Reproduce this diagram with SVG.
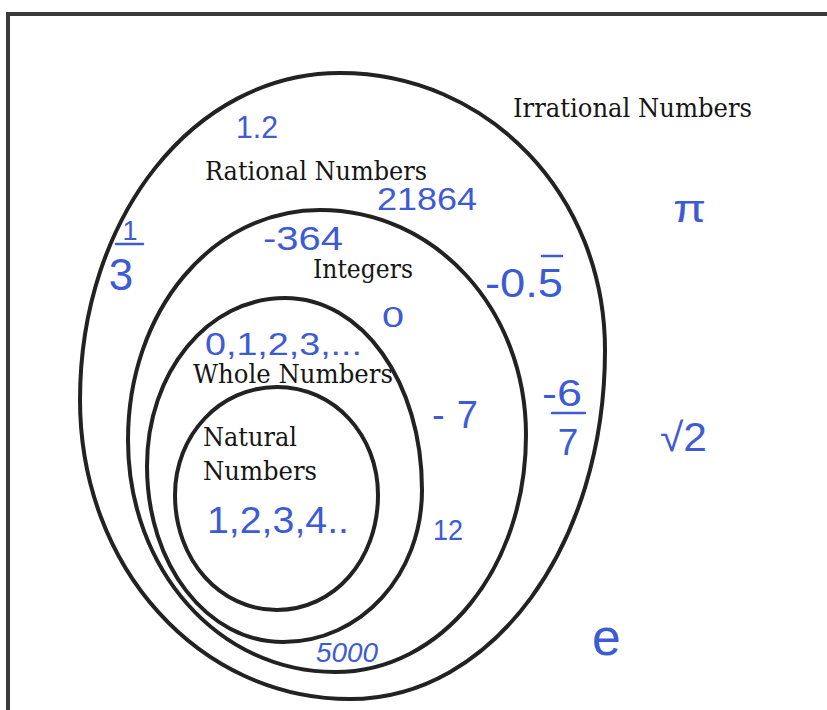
<svg xmlns="http://www.w3.org/2000/svg" width="827" height="710" viewBox="0 0 827 710">
<style>
.set{fill:none;stroke:#222;stroke-width:4}
.lbl{font-family:"DejaVu Serif","Liberation Serif",serif;fill:#151515;font-size:26px}
.hw{font-family:"Liberation Sans",Arial,sans-serif;fill:#3d5bd4}
.bar{stroke:#3d5bd4;stroke-width:2.5;stroke-linecap:round}
</style>
<rect width="827" height="710" fill="#fff"/>
<path d="M8,710 V14 H827" fill="none" stroke="#3a3a3a" stroke-width="4"/>
<g id="irrational">
<text class="lbl" x="513" y="117" font-size="27" textLength="239" lengthAdjust="spacingAndGlyphs">Irrational Numbers</text>
<text class="hw" x="673" y="222" font-size="38" textLength="33" lengthAdjust="spacingAndGlyphs">π</text>
<text class="hw" x="660" y="451" font-size="40" textLength="47" lengthAdjust="spacingAndGlyphs">√2</text>
<text class="hw" x="592" y="655" font-size="52">e</text>
</g>
<g id="rational">
<path class="set" d="M340,73 C488,73 605,195 605,350 C605,545 493,699 350,699 C199,699 80,567 80,400 C80,217 194,73 340,73 Z"/>
<text class="lbl" x="205" y="180" textLength="222" lengthAdjust="spacingAndGlyphs">Rational Numbers</text>
<text class="hw" x="236" y="138" font-size="31" textLength="42" lengthAdjust="spacingAndGlyphs">1.2</text>
<text class="hw" x="377" y="210" font-size="31" textLength="100" lengthAdjust="spacingAndGlyphs">21864</text>
<text class="hw" x="130" y="240" font-size="27" text-anchor="middle">1</text>
<line class="bar" x1="116" y1="244" x2="143" y2="244"/>
<text class="hw" x="121" y="290" font-size="44" text-anchor="middle">3</text>
<text class="hw" x="485" y="297" font-size="40" textLength="78" lengthAdjust="spacingAndGlyphs">-0.5</text>
<line class="bar" x1="542" y1="256" x2="562" y2="256"/>
<text class="hw" x="542" y="406" font-size="36" textLength="40" lengthAdjust="spacingAndGlyphs">-6</text>
<line class="bar" x1="552" y1="413" x2="585" y2="413"/>
<text class="hw" x="568" y="455" font-size="37" text-anchor="middle">7</text>
</g>
<g id="integers">
<path class="set" d="M320,210 C435,210 526,309 526,435 C526,568 442,672 335,672 C219,672 128,570 128,440 C128,311 212,210 320,210 Z"/>
<text class="lbl" x="313" y="278" textLength="100" lengthAdjust="spacingAndGlyphs">Integers</text>
<text class="hw" x="263" y="250" font-size="33" textLength="80" lengthAdjust="spacingAndGlyphs">-364</text>
<text class="hw" x="382" y="327" font-size="29" textLength="22" lengthAdjust="spacingAndGlyphs">0</text>
<text class="hw" x="432" y="428" font-size="38" textLength="46">-7</text>
<text class="hw" x="433" y="540" font-size="30" textLength="30" lengthAdjust="spacingAndGlyphs">12</text>
<text class="hw" x="316" y="662" font-size="27" textLength="62" font-style="italic" lengthAdjust="spacingAndGlyphs">5000</text>
</g>
<g id="whole">
<path class="set" d="M285,298 C362,298 422,382 422,490 C422,575 361,642 283,642 C207,642 147,565 147,466 C147,372 208,298 285,298 Z"/>
<text class="lbl" x="193" y="383" textLength="200" lengthAdjust="spacingAndGlyphs">Whole Numbers</text>
<text class="hw" x="205" y="355" font-size="31" textLength="157" lengthAdjust="spacingAndGlyphs">0,1,2,3,...</text>
</g>
<g id="natural">
<path class="set" d="M277,387 C334,387 378,435 378,495 C378,560 334,610 277,610 C220,610 175,560 175,495 C175,435 220,387 277,387 Z"/>
<text class="lbl" x="203" y="446" textLength="94" lengthAdjust="spacingAndGlyphs">Natural</text>
<text class="lbl" x="203" y="480" textLength="114" lengthAdjust="spacingAndGlyphs">Numbers</text>
<text class="hw" x="207" y="533" font-size="36" textLength="142" lengthAdjust="spacingAndGlyphs">1,2,3,4..</text>
</g>
<g id="connectors"/>
</svg>
